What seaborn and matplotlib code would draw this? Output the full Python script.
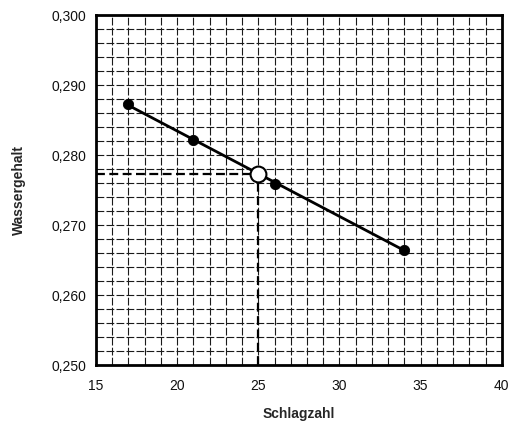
import numpy as np
import pandas as pd
import seaborn as sns
import matplotlib.pyplot as plt
from matplotlib.ticker import MultipleLocator, FuncFormatter

# Messwerte des Fließgrenzenversuchs
schlagzahl = [17, 21, 26, 34]
wassergehalt = [0.2873, 0.2821, 0.2759, 0.2665]
x_ticks = [15, 20, 25, 30, 35, 40]
y_ticks = [0.250, 0.260, 0.270, 0.280, 0.290, 0.300]
bezug_schlagzahl = 25

sns.set_theme(style="white")
plt.rcParams['font.family'] = ['Liberation Sans', 'DejaVu Sans']

df = pd.DataFrame({"Schlagzahl": schlagzahl, "Wassergehalt": wassergehalt})

fig = plt.figure(figsize=(5.10, 4.23), dpi=100)
ax = fig.add_axes([0.188, 0.137, 0.796, 0.8275])

# Ausgleichsgerade durch die Messpunkte
k, d = np.polyfit(df["Schlagzahl"], df["Wassergehalt"], 1)
xl = np.array([min(schlagzahl), max(schlagzahl)])
sns.lineplot(x=xl, y=k * xl + d, ax=ax, color="black", linewidth=2, zorder=3)
sns.scatterplot(data=df, x="Schlagzahl", y="Wassergehalt", ax=ax, color="black",
                s=55, edgecolor="black", zorder=4, legend=False)

# Wassergehalt bei 25 Schlägen
w25 = k * bezug_schlagzahl + d
ax.plot([x_ticks[0], bezug_schlagzahl], [w25, w25], color="black", lw=1.6,
        linestyle=(0, (4, 2)), zorder=3)
ax.plot([bezug_schlagzahl, bezug_schlagzahl], [y_ticks[0], w25], color="black", lw=1.6,
        linestyle=(0, (4, 2)), zorder=3)
ax.scatter([bezug_schlagzahl], [w25], s=130, facecolor="white", edgecolor="black",
           linewidth=1.5, zorder=5)

ax.set_xlim(x_ticks[0], x_ticks[-1])
ax.set_ylim(y_ticks[0], y_ticks[-1])
ax.set_xticks(x_ticks)
ax.set_yticks(y_ticks)
ax.xaxis.set_minor_locator(MultipleLocator(1))
ax.yaxis.set_minor_locator(MultipleLocator(0.002))
ax.yaxis.set_major_formatter(FuncFormatter(lambda v, p: f"{v:.3f}".replace(".", ",")))
ax.xaxis.set_major_formatter(FuncFormatter(lambda v, p: f"{v:.0f}"))

ax.grid(which="both", color="#1a1a1a", linewidth=0.8, linestyle=(0, (7, 2)))
ax.set_axisbelow(True)
for s in ax.spines.values():
    s.set_color("black")
    s.set_linewidth(2)

ax.tick_params(axis="both", which="major", direction="out", length=4, width=1,
               color="black", labelsize=10, labelcolor="#111111", pad=3)
ax.tick_params(axis="x", which="major", pad=6)
ax.tick_params(which="minor", length=0)

ax.set_xlabel("Schlagzahl", fontsize=10, fontweight="bold", labelpad=10)
ax.set_ylabel("Wassergehalt", fontsize=10, fontweight="bold", labelpad=18)

fig.savefig("out.png", dpi=100)
